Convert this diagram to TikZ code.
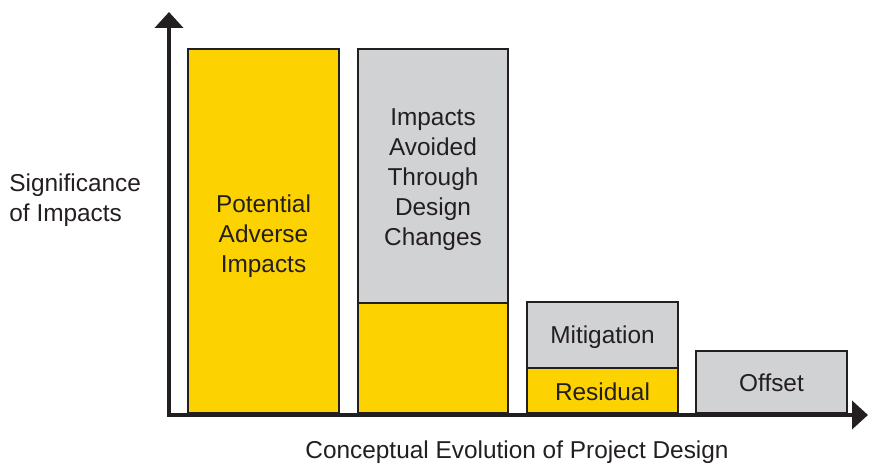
\documentclass[tikz,border=0pt]{standalone}
\usepackage{fontspec}
\setmainfont{Liberation Sans}
\usetikzlibrary{arrows.meta}

\definecolor{impyellow}{HTML}{FCD200}
\definecolor{avgray}{HTML}{D1D2D4}
\definecolor{inkdark}{HTML}{231F20}

\tikzset{
    bar/.style={draw=inkdark, line width=1.3pt, inner sep=0pt,
        minimum width=75.5pt},
    yellowbar/.style={bar, fill=impyellow},
    graybar/.style={bar, fill=avgray},
    bartext/.style={text=inkdark, align=center, inner sep=0pt,
        font=\fontsize{12.2}{15}\selectfont},
    axislabel/.style={text=inkdark, font=\fontsize{12.2}{15}\selectfont}
}

\begin{document}
\begin{tikzpicture}[x=0.5pt, y=-0.5pt]
    \useasboundingbox (0, 0) rectangle (869, 464);

    % bars
    \node[yellowbar, minimum height=182pt] (potential) at (263.5, 231){};
        \node[bartext] (potentialtxt) at (263.5, 236){Potential\\Adverse\\Impacts};
    \node[graybar, minimum width=75pt, minimum height=127pt] (avoided) at (433, 176){};
        \node[bartext] (avoidedtxt) at (433, 180){Impacts\\Avoided\\Through\\Design\\Changes};
        \node[yellowbar, minimum width=75pt, minimum height=55pt] (remain) at (433, 358){};
    \node[graybar, minimum height=33pt] (mitigation) at (602.5, 335){};
        \node[bartext] (mitigationtxt) at (602.5, 337){Mitigation};
        \node[yellowbar, minimum height=22.5pt] (residual) at (602.5, 390.5){};
        \node[bartext] (residualtxt) at (602.5, 391.5){Residual};
    \node[graybar, minimum height=31pt] (offset) at (771.5, 382){};
        \node[bartext] (offsettxt) at (771.5, 383){Offset};

    % axes
    \coordinate (origin) at (169, 415);
    \coordinate (ytip) at (169, 12);
    \coordinate (xtip) at (868, 415);
    \draw[inkdark, line width=2pt, {Triangle[width=14pt, length=8pt]}-{Triangle[width=14pt, length=8pt]}]
        (ytip) -- (origin) -- (xtip);

    \node[axislabel, anchor=west, align=left, inner sep=0pt] (ylabel) at (9, 200){Significance\\of Impacts};
    \node[axislabel] (xlabel) at (517, 452){Conceptual Evolution of Project Design};
\end{tikzpicture}
\end{document}
